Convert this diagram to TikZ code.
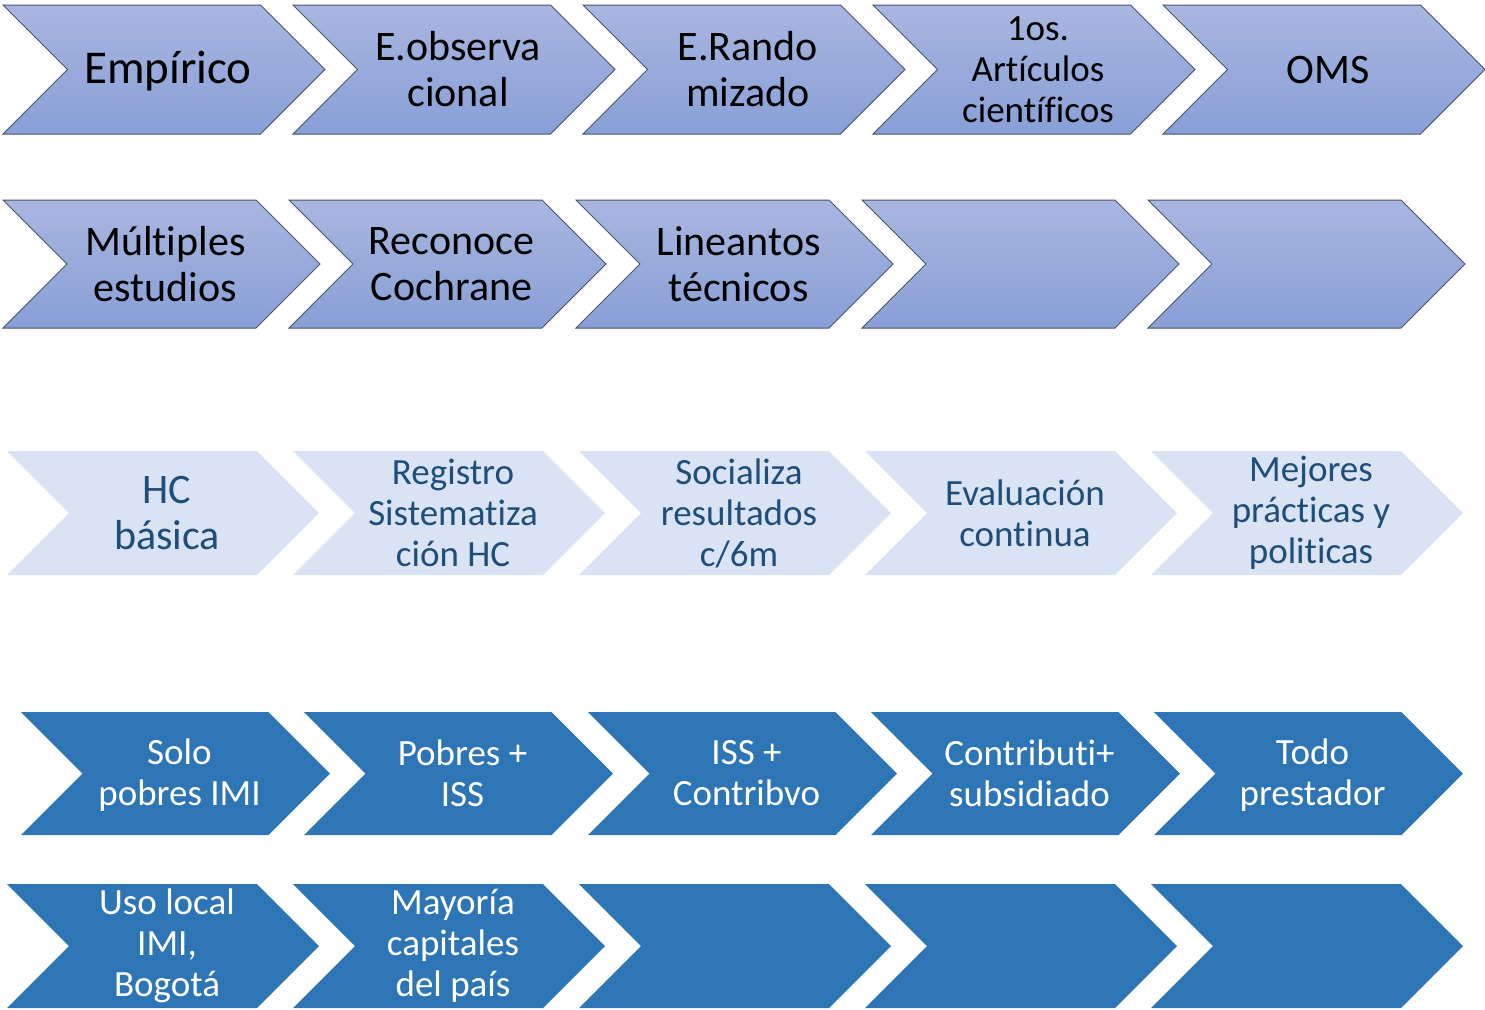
\documentclass[tikz,border=0pt]{standalone}
\usepackage{fontspec}
\setmainfont{Carlito}[Ligatures=NoCommon]
\definecolor{gtop}{RGB}{169,182,224}
\definecolor{gbot}{RGB}{136,159,214}
\definecolor{gline}{RGB}{72,84,108}
\definecolor{lightfill}{RGB}{218,227,243}
\definecolor{darktext}{RGB}{31,78,121}
\definecolor{bluefill}{RGB}{46,117,182}
\newcommand\mychev[8]{%
  \path[#6] (#2,#3) -- ++(#4-#5/2,0) -- ++(#5/2,#5/2) -- ++(-#5/2,#5/2) -- ++(-#4+#5/2,0) -- ++(#5/2,-#5/2) -- cycle;
  \node[#7] (#1) at (#2+#4/2+4,#3+#5/2) {#8};
}
\begin{document}
\begin{tikzpicture}[x=0.5pt,y=-0.5pt,
  gradchev/.style={draw=gline,line width=0.5pt,top color=gtop,bottom color=gbot},
  lightchev/.style={fill=lightfill},
  bluechev/.style={fill=bluefill},
  lbl/.style={align=center,inner sep=0pt},
  big/.style={lbl,font=\fontsize{23.5}{23}\selectfont,yshift=-1pt},
  mid/.style={lbl,font=\fontsize{21}{23}\selectfont},
  small/.style={lbl,font=\fontsize{18.5}{20.5}\selectfont},
  blk/.style={text=black},
  dkb/.style={text=darktext},
  wht/.style={text=white}]
\useasboundingbox (0,0) rectangle (1485,1009);
% Row 1
\mychev{a1}{3}{5}{322}{129}{gradchev}{big,blk}{Empírico}
\mychev{a2}{293}{5}{322}{129}{gradchev}{mid,blk}{E.observa\\cional}
\mychev{a3}{583}{5}{322}{129}{gradchev}{mid,blk}{E.Rando\\mizado}
\mychev{a4}{873}{5}{322}{129}{gradchev}{small,blk}{1os.\\Artículos\\científicos}
\mychev{a5}{1163}{5}{322}{129}{gradchev}{mid,blk,yshift=-0.5pt}{OMS}
% Row 2
\mychev{b1}{3}{200}{317}{128}{gradchev}{mid,blk}{Múltiples\\estudios}
\mychev{b2}{289}{200}{317}{128}{gradchev}{mid,blk}{Reconoce\\Cochrane}
\mychev{b3}{576}{200}{317}{128}{gradchev}{mid,blk}{Lineantos\\técnicos}
\mychev{b4}{862}{200}{317}{128}{gradchev}{mid,blk}{}
\mychev{b5}{1148}{200}{317}{128}{gradchev}{mid,blk}{}
% Row 3
\mychev{c1}{7}{451}{312}{124}{lightchev}{mid,dkb}{HC\\básica}
\mychev{c2}{293}{451}{312}{124}{lightchev}{small,dkb}{Registro\\Sistematiza\\ción HC}
\mychev{c3}{579}{451}{312}{124}{lightchev}{small,dkb}{Socializa\\resultados\\c/6m}
\mychev{c4}{865}{451}{312}{124}{lightchev}{small,dkb}{Evaluación\\continua}
\mychev{c5}{1151}{451}{312}{124}{lightchev}{small,dkb}{Mejores\\prácticas y\\politicas}
% Row 4
\mychev{d1}{21}{712}{309}{123}{bluechev}{small,wht,yshift=-1pt}{Solo\\pobres IMI}
\mychev{d2}{304}{712}{309}{123}{bluechev}{small,wht}{Pobres +\\ISS}
\mychev{d3}{588}{712}{309}{123}{bluechev}{small,wht}{ISS +\\Contribvo}
\mychev{d4}{871}{712}{309}{123}{bluechev}{small,wht}{Contributi+\\subsidiado}
\mychev{d5}{1154}{712}{309}{123}{bluechev}{small,wht,yshift=-1pt}{Todo\\prestador}
% Row 5
\mychev{e1}{7}{884}{312}{124}{bluechev}{small,wht}{Uso local\\IMI,\\Bogotá}
\mychev{e2}{293}{884}{312}{124}{bluechev}{small,wht}{Mayoría\\capitales\\del país}
\mychev{e3}{579}{884}{312}{124}{bluechev}{small,wht}{}
\mychev{e4}{865}{884}{312}{124}{bluechev}{small,wht}{}
\mychev{e5}{1151}{884}{312}{124}{bluechev}{small,wht}{}
\end{tikzpicture}
\end{document}
